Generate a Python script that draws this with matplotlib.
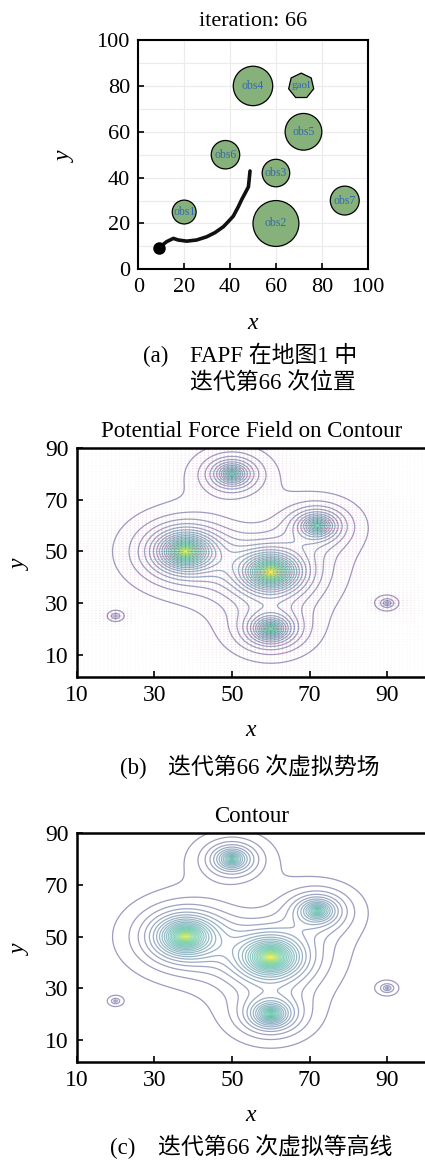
import numpy as np
import matplotlib
matplotlib.use("Agg")
import matplotlib.pyplot as plt
from matplotlib.patches import Circle, RegularPolygon
from matplotlib.colors import LinearSegmentedColormap

SERIF = ["Liberation Serif", "Noto Sans CJK SC"]
plt.rcParams["font.family"] = SERIF
plt.rcParams["mathtext.fontset"] = "custom"
plt.rcParams["mathtext.it"] = "Liberation Serif:italic"

# ---- map data -------------------------------------------------------------
obs_names = ["obs1", "obs2", "obs3", "obs4", "obs5", "obs6", "obs7"]
obs_x = [20, 60, 60, 50, 72, 38, 90]
obs_y = [25, 20, 42, 80, 60, 50, 30]
obs_r = [5.2, 10.0, 6.0, 8.6, 8.0, 6.2, 6.3]
goal_x, goal_y, goal_r = 71, 80, 5.6

traj_x = [9.0, 12.4, 15.3, 17.4, 21.1, 25.4, 29.8, 33.4, 37.1, 39.2, 41.4, 43.6,
          45.1, 46.5, 48.0, 48.3, 48.7]
traj_y = [9.4, 12.1, 13.5, 12.8, 12.3, 12.8, 14.2, 16.0, 18.6, 20.8, 23.2, 27.3,
          30.5, 33.1, 36.0, 38.9, 42.9]

# ---- virtual potential field (per-obstacle strength and spread) ----------
pot_x = [20, 60, 60, 50, 72, 38, 90]
pot_y = [25, 20, 42, 80, 60, 50, 30]
pot_amp = [0.14, 0.66, 1.00, 0.55, 0.58, 0.95, 0.18]
pot_spread = [1.3, 4.2, 5.6, 4.0, 4.2, 5.4, 1.6]

iteration = 66

fig = plt.figure(figsize=(4.25, 11.62), dpi=100)


def px(x):
    return x / 425


def py(y):
    return 1 - y / 1162


def style_axes(ax, lw=1.6):
    for s in ax.spines.values():
        s.set_linewidth(lw)
    ax.tick_params(direction="in", length=4, width=1.2, top=False, right=False)


# ---------------- (a) map with trajectory ----------------
ax1 = fig.add_axes([0.3254, 0.7682, 0.5398, 0.1973])
ax1.set_xlim(0, 100)
ax1.set_ylim(0, 100)
ax1.set_xticks(np.arange(0, 101, 20))
ax1.set_yticks(np.arange(0, 101, 20))
ax1.set_yticks(np.arange(0, 101, 10), minor=True)
ax1.tick_params(which="minor", length=0)
ax1.grid(which="major", axis="x", color="#ebebeb", lw=0.8)
ax1.grid(which="both", axis="y", color="#ebebeb", lw=0.8)
ax1.set_axisbelow(True)
style_axes(ax1, 1.5)
ax1.tick_params(labelsize=16, pad=6)

for name, cx, cy, r in zip(obs_names, obs_x, obs_y, obs_r):
    ax1.add_patch(Circle((cx, cy), r, facecolor="#87b17b", edgecolor="black", lw=0.9, zorder=3))
    ax1.text(cx, cy, name, ha="center", va="center", fontsize=8.5, color="#3369b0", zorder=4)
ax1.add_patch(RegularPolygon((goal_x, goal_y), 7, radius=goal_r, facecolor="#87b17b",
                             edgecolor="black", lw=0.9, zorder=3))
ax1.text(goal_x, goal_y, "gaol", ha="center", va="center", fontsize=8, color="#3369b0", zorder=4)

ax1.plot(traj_x, traj_y, color="#111111", lw=2.6, solid_capstyle="round",
         solid_joinstyle="round", zorder=5)
ax1.plot(traj_x[0], traj_y[0], "o", color="black", ms=8, zorder=6)

ax1.set_title(f"iteration: {iteration}", fontsize=16, pad=10)
ax1.set_xlabel("$x$", fontsize=17, labelpad=12)
ax1.set_ylabel("$y$", fontsize=17, labelpad=15)

fig.text(px(143), py(356), "(a)", fontsize=16.5, ha="left", va="center")
fig.text(px(190), py(356), "FAPF 在地图1 中", fontsize=16.5, ha="left", va="center")
fig.text(px(190), py(383), f"迭代第{iteration} 次位置", fontsize=16.5, ha="left", va="center")

# ---------------- potential field ----------------
gx = np.linspace(10, 100, 361)
gy = np.linspace(0, 92, 369)
X, Y = np.meshgrid(gx, gy)
U = np.zeros_like(X)
for cx, cy, a, s in zip(pot_x, pot_y, pot_amp, pot_spread):
    U += a * np.exp(-np.hypot(X - cx, Y - cy) / s)

levels = np.linspace(0.03, 1.0, 28)

# coarse grid for force arrows
qx = np.arange(10, 101, 1.0)
qy = np.arange(1, 91, 1.0)
QX, QY = np.meshgrid(qx, qy)
QU = np.zeros_like(QX)
for cx, cy, a, s in zip(pot_x, pot_y, pot_amp, pot_spread):
    QU += a * np.exp(-np.hypot(QX - cx, QY - cy) / s)
dUy, dUx = np.gradient(QU, qy, qx)
mag = np.hypot(dUx, dUy)
rel = mag / mag.max()
# unit directions, arrow length compressed so weak forces still show as short marks
ux = np.divide(dUx, mag, out=np.zeros_like(mag), where=mag > 0)
uy = np.divide(dUy, mag, out=np.zeros_like(mag), where=mag > 0)
alen = 0.25 + 1.1 * rel ** 0.5

arrow_cmap = LinearSegmentedColormap.from_list(
    "arr", ["#e6e2ea", "#e2b0cf", "#dc5a92", "#cc1844"])
line_cmap = LinearSegmentedColormap.from_list(
    "lines", plt.get_cmap("viridis")(np.linspace(0.14, 1.0, 256)))


def field_axes(ax, title):
    ax.set_xlim(10, 100)
    ax.set_ylim(1.5, 90)
    ax.set_xticks([10, 30, 50, 70, 90])
    ax.set_yticks([10, 30, 50, 70, 90])
    style_axes(ax, 1.8)
    ax.tick_params(labelsize=17, pad=6)
    ax.set_title(title, fontsize=16.5, pad=8)
    ax.set_xlabel("$x$", fontsize=17, labelpad=10)
    ax.set_ylabel("$y$", fontsize=17, labelpad=10)


# ---------------- (b) force field on contour ----------------
ax2 = fig.add_axes([0.1805, 0.4176, 0.822, 0.1968])
ax2.quiver(QX, QY, ux * alen, uy * alen, rel ** 0.6, cmap=arrow_cmap, angles="xy",
           scale_units="xy", scale=1.0, pivot="middle", width=0.0022, headwidth=2.2,
           headlength=2.2, headaxislength=2, alpha=0.7, zorder=1)
ax2.contour(X, Y, U, levels=levels, cmap=line_cmap, linewidths=0.9, alpha=0.5, zorder=2)
field_axes(ax2, "Potential Force Field on Contour")
fig.text(px(120), py(768), "(b)", fontsize=16.5, ha="left", va="center")
fig.text(px(168), py(768), f"迭代第{iteration} 次虚拟势场", fontsize=16.5, ha="left", va="center")

# ---------------- (c) contour ----------------
ax3 = fig.add_axes([0.1805, 0.0863, 0.822, 0.1966])
ax3.contour(X, Y, U, levels=levels, cmap=line_cmap, linewidths=0.9, alpha=0.5)
field_axes(ax3, "Contour")
fig.text(px(110), py(1148), "(c)", fontsize=16.5, ha="left", va="center")
fig.text(px(158), py(1148), f"迭代第{iteration} 次虚拟等高线", fontsize=16.5, ha="left", va="center")

fig.savefig("out.png", dpi=100)
